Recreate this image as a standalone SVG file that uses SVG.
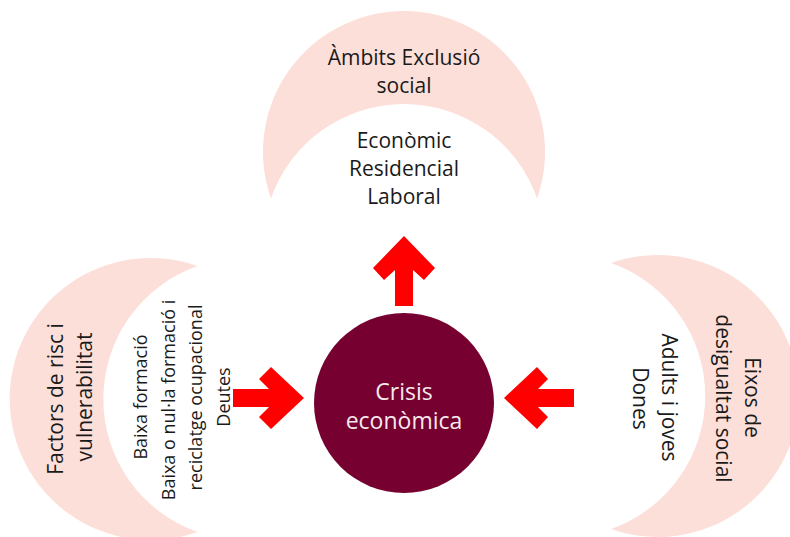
<svg xmlns="http://www.w3.org/2000/svg" width="790" height="537" viewBox="0 0 790 537">
<style>
.moon{fill:#FDDFD9}
.t{font-family:"Open Sans","Noto Sans","Liberation Sans",sans-serif;font-size:21px;fill:#1a1a1a;text-anchor:middle}
.s{font-size:18px}
.c{font-size:23px;fill:#F5E9EC}
.arr{fill:#FF0000}
</style>
<rect width="790" height="537" fill="#ffffff"/>
<g id="node-ambits">
<path class="moon" d="M270.9,198.5 A141,141 0 1 1 537.1,198.5 A141,141 0 0 0 270.9,198.5 Z"/>
<text class="t" x="404" y="65">Àmbits Exclusió</text>
<text class="t" x="404" y="92.5">social</text>
<text class="t" x="404" y="148">Econòmic</text>
<text class="t" x="404" y="176">Residencial</text>
<text class="t" x="404" y="203.5">Laboral</text>
</g>
<g id="node-factors">
<path class="moon" d="M197.5,532 A141,141 0 1 1 197.5,266 A141,141 0 0 0 197.5,532 Z"/>
<g transform="translate(63,399) rotate(-90)"><text class="t" x="0" y="0">Factors de risc i</text></g>
<g transform="translate(92,397) rotate(-90)"><text class="t" x="0" y="0">vulnerabilitat</text></g>
<g transform="translate(147,397) rotate(-90)"><text class="t s" x="0" y="0">Baixa formació</text></g>
<g transform="translate(174.5,400) rotate(-90)"><text class="t s" x="0" y="0">Baixa o nul·la formació i</text></g>
<g transform="translate(202,397.5) rotate(-90)"><text class="t s" x="0" y="0">reciclatge ocupacional</text></g>
<g transform="translate(230,397) rotate(-90)"><text class="t s" x="0" y="0">Deutes</text></g>
</g>
<g id="node-eixos">
<path class="moon" d="M611,263 A141,141 0 1 1 611,529 A141,141 0 0 0 611,263 Z"/>
<g transform="translate(745,397.5) rotate(90)"><text class="t" x="0" y="0">Eixos de</text></g>
<g transform="translate(716,398.5) rotate(90)"><text class="t" x="0" y="0">desigualtat social</text></g>
<g transform="translate(662,397.5) rotate(90)"><text class="t" x="0" y="0">Adults i joves</text></g>
<g transform="translate(633,398.5) rotate(90)"><text class="t" x="0" y="0">Dones</text></g>
</g>
<g id="node-crisis">
<circle cx="404" cy="403" r="90" fill="#760030"/>
<text class="t c" x="404" y="400">Crisis</text>
<text class="t c" x="404" y="429">econòmica</text>
</g>
<g id="connectors">
<polygon class="arr" points="404,236 435,268 424,280 413,270 413,306 395,306 395,270 384,280 373,268"/>
<polygon class="arr" points="233,389 269,389 259,379 271,367 304,398 271,429 259,417 269,407 233,407"/>
<polygon class="arr" points="504,398 537,367 548,379 538,389 574,389 574,407 538,407 548,417 537,429"/>
</g>
</svg>
